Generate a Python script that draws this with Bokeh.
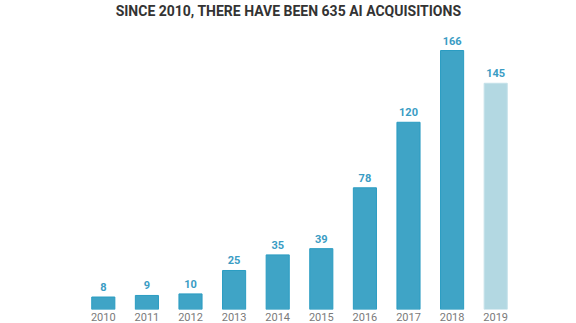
from bokeh.plotting import figure
from bokeh.models import ColumnDataSource, Label
from bokeh.embed import file_html
from bokeh.resources import INLINE
from bokeh.core.properties import value

years = ["2010", "2011", "2012", "2013", "2014", "2015", "2016", "2017", "2018", "2019"]
acquisitions = [8, 9, 10, 25, 35, 39, 78, 120, 166, 145]
title_text = "SINCE 2010, THERE HAVE BEEN 635 AI ACQUISITIONS"

fill = ["#3fa4c6"] * 9 + ["#b3d8e2"]
line = ["#2a9cc2"] * 9 + ["#c4e1e9"]
src = ColumnDataSource(dict(x=years, top=acquisitions, fill=fill, line=line,
                            label=[str(v) for v in acquisitions]))

p = figure(x_range=years, y_range=(0, 198.05), width=576, height=323,
           output_backend="svg", toolbar_location=None,
           min_border_left=81, min_border_right=59, min_border_top=0, min_border_bottom=5)

# screen units are measured from the frame's bottom-left corner; frame spans to the top edge
title = Label(x=207, y=299, x_units="screen", y_units="screen", text=title_text,
              text_align="center", text_baseline="middle", text_font="Roboto",
              text_font_style="bold", text_font_size="14px", text_color="#333333")
p.add_layout(title)

p.vbar(x="x", top="top", width=0.53, source=src, fill_color="fill", line_color="line", line_width=1)
p.text(x="x", y="top", text="label", source=src, text_align="center", text_baseline="bottom",
       y_offset=-6, text_font=value("Roboto"), text_font_style="bold", text_font_size="11px",
       text_color="#3a9cc4")

p.yaxis.visible = False
p.xgrid.visible = False
p.ygrid.visible = False
p.outline_line_color = None
p.xaxis.axis_line_color = None
p.xaxis.major_tick_line_color = None
p.xaxis.minor_tick_line_color = None
p.xaxis.major_tick_out = 0
p.xaxis.major_tick_in = 0
p.xaxis.major_label_standoff = 3
p.xaxis.major_label_text_font = "Roboto"
p.xaxis.major_label_text_font_size = "11px"
p.xaxis.major_label_text_color = "#7a7a7a"

open("out.html", "w").write(file_html(p, INLINE))
